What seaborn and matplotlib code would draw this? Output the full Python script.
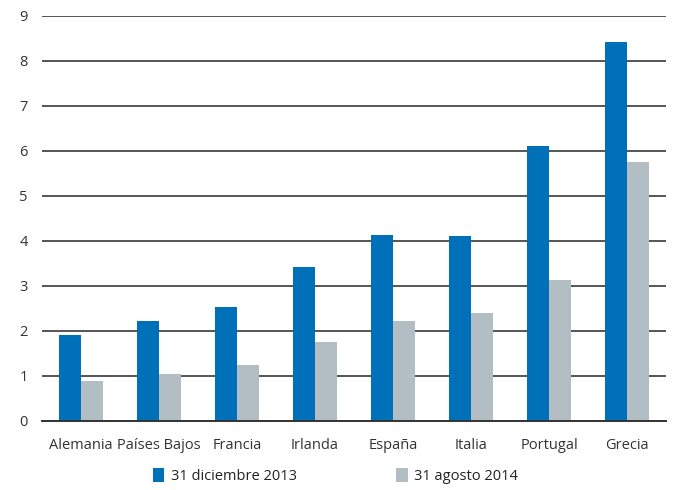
import matplotlib
matplotlib.use("Agg")
import matplotlib.pyplot as plt
import seaborn as sns
import pandas as pd
import numpy as np

categories = ["Alemania", "Países Bajos", "Francia", "Irlanda", "España", "Italia", "Portugal", "Grecia"]
dic_2013 = [1.91, 2.22, 2.54, 3.42, 4.13, 4.11, 6.11, 8.41]
ago_2014 = [0.88, 1.04, 1.24, 1.75, 2.21, 2.39, 3.14, 5.75]
series_names = ["31 diciembre 2013", "31 agosto 2014"]
yticks = list(range(0, 10))

sns.set_theme(style="white")
plt.rcParams["font.family"] = ["Open Sans", "DejaVu Sans"]
fs = 10.5

df = pd.DataFrame({
    "pais": categories * 2,
    "valor": dic_2013 + ago_2014,
    "serie": [series_names[0]] * len(categories) + [series_names[1]] * len(categories),
})

fig = plt.figure(figsize=(6.75, 4.9), dpi=100)
ax = fig.add_axes([0.062, 0.141, 0.925, 0.827])

palette = {series_names[0]: "#0070B8", series_names[1]: "#B2BEC3"}
sns.barplot(data=df, x="pais", y="valor", hue="serie", palette=palette,
            width=0.57, dodge=True, saturation=1, ax=ax, legend=True, zorder=3,
            linewidth=0, edgecolor="none")

ax.set_ylim(0, 9)
ax.set_xlim(-0.5, len(categories) - 0.5)
ax.set_yticks(yticks)
ax.set_yticklabels([str(t) for t in yticks], fontsize=fs, color="#333333")
ax.yaxis.grid(True, color="#555555", linewidth=1.4, zorder=0)
ax.set_axisbelow(True)
for s in ["top", "right", "left"]:
    ax.spines[s].set_visible(False)
ax.spines["bottom"].set_color("#333333")
ax.spines["bottom"].set_linewidth(1.4)
ax.spines["bottom"].set_zorder(4)
ax.tick_params(axis="y", length=0, pad=10)
ax.tick_params(axis="x", which="major", length=0, pad=12, labelsize=fs, labelcolor="#333333")
ax.set_xticks(np.arange(-0.5, len(categories), 1.0), minor=True)
ax.tick_params(axis="x", which="minor", length=5, width=1.2, color="#333333", direction="out")
ax.set_xlabel("")
ax.set_ylabel("")

leg = ax.legend(loc="upper center", bbox_to_anchor=(0.47, -0.085), ncol=2, frameon=False,
                fontsize=fs, handlelength=0.8, handleheight=1.1, columnspacing=6.8,
                handletextpad=0.45)
for t in leg.get_texts():
    t.set_color("#222222")

fig.savefig("out.png", dpi=100)
